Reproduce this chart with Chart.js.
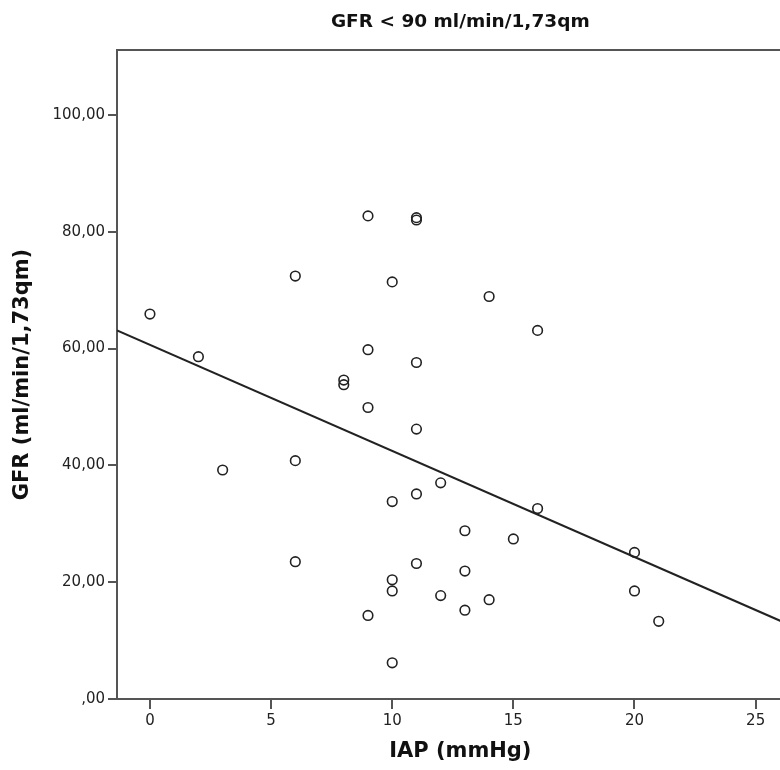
<!DOCTYPE html>
<html>
<head>
<meta charset="utf-8">
<script src="https://cdn.jsdelivr.net/npm/chart.js@4.4.0/dist/chart.umd.min.js"></script>
<style>
  html, body { margin: 0; padding: 0; overflow: hidden; background: #fff; }
  #wrap { width: 810px; height: 770px; }
</style>
</head>
<body>
<div id="wrap"><canvas id="myChart" width="810" height="770"></canvas></div>
<script>
// IAP (mmHg) and GFR values
let iap = [0, 2, 3, 6, 6, 6, 8, 8, 9, 9, 9, 9, 10, 10, 10, 10, 10, 11, 11, 11, 11, 11, 11, 12, 12, 13, 13, 13, 14, 14, 15, 16, 16, 20, 20, 21];
let gfr = [65.9, 58.6, 39.2, 72.4, 40.8, 23.5, 54.6, 53.8, 82.7, 59.8, 49.9, 14.3, 71.4, 33.8, 20.4, 18.5, 6.2, 82.4, 82.0, 57.6, 46.2, 35.1, 23.2, 37.0, 17.7, 28.8, 21.9, 15.2, 68.9, 17.0, 27.4, 63.1, 32.6, 25.1, 18.5, 13.3];

// fit line, two ends
let fitX = [-1.36, 27];
let fitY = [63.1, 11.6];

let xTicks = [0, 5, 10, 15, 20, 25];
let yTicks = [0, 20, 40, 60, 80, 100];
let yTickLabels = [',00', '20,00', '40,00', '60,00', '80,00', '100,00'];

const titel = 'GFR < 90 ml/min/1,73qm';
const xTitel = 'IAP (mmHg)';
const yTitel = 'GFR (ml/min/1,73qm)';

const punkte = iap.map((x, i) => ({ x: x, y: gfr[i] }));
const linie = fitX.map((x, i) => ({ x: x, y: fitY[i] }));

const achse = '#555';
const schrift = 'DejaVu Sans';

// obere Rahmenlinie
const rahmen = {
  id: 'rahmen',
  afterDraw(chart) {
    const a = chart.chartArea;
    const c = chart.ctx;
    c.save();
    c.strokeStyle = achse;
    c.lineWidth = 2;
    c.beginPath();
    c.moveTo(a.left - 1, a.top);
    c.lineTo(a.right, a.top);
    c.stroke();
    c.restore();
  }
};

const ctx = document.getElementById('myChart').getContext('2d');

let chart = new Chart(ctx, {
  type: 'scatter',
  data: {
    datasets: [{
      label: 'GFR',
      data: punkte,
      pointStyle: 'circle',
      pointRadius: 4.8,
      borderWidth: 1.6,
      borderColor: '#222',
      backgroundColor: 'rgba(0,0,0,0)'
    }, {
      type: 'line',
      label: 'Fit',
      data: linie,
      borderColor: '#222',
      borderWidth: 2,
      pointRadius: 0,
      fill: false
    }]
  },
  options: {
    responsive: false,
    animation: false,
    layout: { padding: { left: 0, right: 5, top: 0, bottom: 0 } },
    plugins: {
      legend: { display: false },
      tooltip: { enabled: false },
      title: {
        display: true,
        text: titel,
        fullSize: false,
        color: '#111',
        font: { family: schrift, size: 18.5, weight: 'bold', lineHeight: '22px' },
        padding: { top: 11, bottom: 17 }
      }
    },
    scales: {
      x: {
        type: 'linear',
        min: -1.36,
        max: 26.98,
        afterFit: (s) => { s.height = 71; },
        afterBuildTicks: (s) => { s.ticks = xTicks.map(v => ({ value: v })); },
        grid: { drawOnChartArea: false, drawTicks: true, tickLength: 10, color: achse, lineWidth: 2 },
        border: { display: true, color: achse, width: 2 },
        ticks: {
          color: '#222',
          padding: 3,
          font: { family: schrift, size: 15 },
          callback: (v) => String(v)
        },
        title: {
          display: true,
          text: xTitel,
          color: '#111',
          font: { family: schrift, size: 21, weight: 'bold', lineHeight: '24px' },
          padding: { top: 0, bottom: 6 }
        }
      },
      y: {
        type: 'linear',
        min: 0,
        max: 111.1,
        afterFit: (s) => { s.width = 117; },
        afterBuildTicks: (s) => { s.ticks = yTicks.map(v => ({ value: v })); },
        grid: { drawOnChartArea: false, drawTicks: true, tickLength: 9, color: achse, lineWidth: 2 },
        border: { display: true, color: achse, width: 2 },
        ticks: {
          color: '#222',
          padding: 3,
          font: { family: schrift, size: 15 },
          callback: (v) => yTickLabels[yTicks.indexOf(v)]
        },
        title: {
          display: true,
          text: yTitel,
          color: '#111',
          font: { family: schrift, size: 21, weight: 'bold', lineHeight: '24px' },
          padding: { top: 11, bottom: 0 }
        }
      }
    }
  },
  plugins: [rahmen]
});
</script>
</body>
</html>
